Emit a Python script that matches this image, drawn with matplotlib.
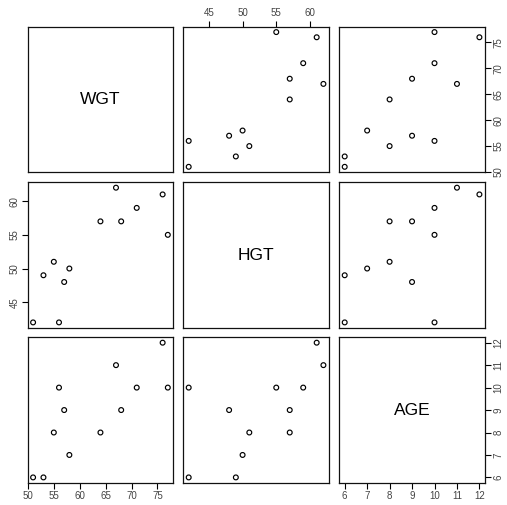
import numpy as np
import matplotlib
matplotlib.use("Agg")
from matplotlib import pyplot as plt

# datos
nombres = ["WGT", "HGT", "AGE"]
wgt = [51, 53, 55, 56, 57, 58, 64, 67, 68, 71, 76, 77]
hgt = [42, 49, 51, 42, 48, 50, 57, 62, 57, 59, 61, 55]
age = [6, 6, 8, 10, 9, 7, 8, 11, 9, 10, 12, 10]
ticks_wgt = [50, 55, 60, 65, 70, 75]
ticks_hgt = [45, 50, 55, 60]
ticks_age = [6, 7, 8, 9, 10, 11, 12]

datos = [wgt, hgt, age]
marcas = [ticks_wgt, ticks_hgt, ticks_age]

W, H = 507, 505
fig = plt.figure(figsize=(W / 100, H / 100), dpi=100)

izq = [27.7, 183.3, 339.3]
arr = [26.7, 182.3, 337.3]
ancho, alto = 145.5, 145.5


def _rango(v):
    a, b = min(v), max(v)
    d = (b - a) * 0.04
    return a - d, b + d


for i in range(3):
    for j in range(3):
        ax = fig.add_axes([izq[j] / W, 1 - (arr[i] + alto) / H, ancho / W, alto / H])
        for s in ax.spines.values():
            s.set_linewidth(0.9)
            s.set_color("#111111")
        ax.set_xlim(_rango(datos[j]))
        ax.set_ylim(_rango(datos[i]))
        ax.set_xticks([])
        ax.set_yticks([])
        ax.tick_params(labelsize=7, length=4, width=0.8, pad=2,
                       labelcolor="#444444")
        if i == j:
            ax.text(0.5, 0.5, nombres[i], transform=ax.transAxes,
                    ha="center", va="center", fontsize=12.5,
                    family="Liberation Sans")
        else:
            ax.scatter(datos[j], datos[i], s=12, facecolors="none",
                       edgecolors="black", linewidths=0.85)
        # ejes como en pairs() de R
        if i == 2 and j in (0, 2):
            ax.set_xticks(marcas[j])
        if i == 0 and j == 1:
            ax.set_xticks(marcas[j])
            ax.xaxis.tick_top()
        if j == 0 and i == 1:
            ax.set_yticks(marcas[i])
            plt.setp(ax.get_yticklabels(), rotation=90, va="center")
        if j == 2 and i in (0, 2):
            ax.set_yticks(marcas[i])
            ax.yaxis.tick_right()
            plt.setp(ax.get_yticklabels(), rotation=90, va="center")
        for t in ax.get_xticklabels() + ax.get_yticklabels():
            t.set_family("Liberation Sans")

fig.savefig("out.png", dpi=100)
